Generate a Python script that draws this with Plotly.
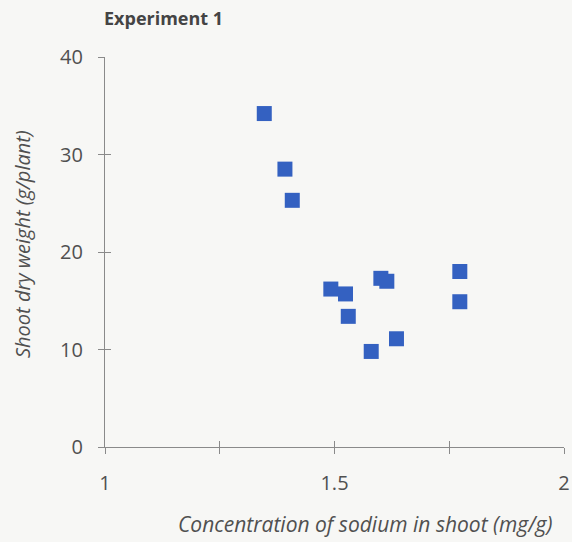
import plotly.graph_objects as go

sodium = [1.347, 1.392, 1.408, 1.492, 1.524, 1.530, 1.601, 1.614, 1.580, 1.635, 1.773, 1.773]
weight = [34.2, 28.5, 25.3, 16.2, 15.7, 13.4, 17.3, 17.0, 9.8, 11.1, 18.0, 14.9]
x_ticks = [1, 1.25, 1.5, 1.75, 2]
x_tick_labels = ["1", "", "1.5", "", "2"]
y_ticks = [0, 10, 20, 30, 40]

FONT = "Open Sans"
GRAY = "#505050"
AX = "#8a8a8a"
BG = "#f7f7f5"

fig = go.Figure()
fig.add_trace(go.Scatter(x=sodium, y=weight, mode="markers",
                         marker=dict(symbol="square", size=15, color="#3461c1", line=dict(width=0)),
                         showlegend=False))
# invisible trace to activate secondary axes (ticks drawn on the inner side)
fig.add_trace(go.Scatter(x=[1], y=[0], xaxis="x2", yaxis="y2", mode="markers",
                         marker=dict(opacity=0), showlegend=False, hoverinfo="skip"))

fig.update_layout(
    width=572, height=542,
    margin=dict(l=105, r=8, t=57, b=95),
    paper_bgcolor=BG, plot_bgcolor=BG,
    font=dict(family=FONT, color=GRAY, size=19),
    xaxis=dict(range=[1, 2], tickvals=x_ticks, ticktext=x_tick_labels, automargin=False,
               showgrid=False, zeroline=False, showline=True, linecolor=AX, linewidth=1.2,
               ticks="outside", ticklen=6, tickcolor=AX, tickwidth=1.2,
               tickfont=dict(size=20, color=GRAY), ticklabelstandoff=12),
    yaxis=dict(range=[0, 40], tickvals=y_ticks, automargin=False,
               showgrid=False, zeroline=False, showline=True, linecolor=AX, linewidth=1.2,
               ticks="outside", ticklen=6, tickcolor=AX, tickwidth=1.2,
               tickfont=dict(size=20, color=GRAY), ticklabelstandoff=11),
    xaxis2=dict(range=[1, 2], overlaying="x", tickvals=x_ticks, showticklabels=False, automargin=False,
                showgrid=False, zeroline=False, showline=False,
                ticks="inside", ticklen=6, tickcolor=AX, tickwidth=1.2),
    yaxis2=dict(range=[0, 40], overlaying="y", tickvals=y_ticks, showticklabels=False, automargin=False,
                showgrid=False, zeroline=False, showline=False,
                ticks="inside", ticklen=6, tickcolor=AX, tickwidth=1.2),
)

fig.add_annotation(text="<b>Experiment 1</b>", xref="paper", yref="paper", x=0, y=1,
                   xanchor="left", yanchor="middle", yshift=39, xshift=-3, showarrow=False,
                   font=dict(size=18, color="#444444", family=FONT))
fig.add_annotation(text="<i>Shoot dry weight (g/plant)</i>", xref="paper", yref="paper",
                   x=0, y=0.5, xanchor="center", yanchor="middle", xshift=-83, yshift=8,
                   textangle=-90, showarrow=False, font=dict(size=20, color=GRAY, family=FONT))
fig.add_annotation(text="<i>Concentration of sodium in shoot (mg/g)</i>", xref="paper", yref="paper",
                   x=1, y=0, xanchor="right", yanchor="middle", xshift=-9, yshift=-77, showarrow=False,
                   font=dict(size=21, color=GRAY, family=FONT))

fig.write_html("out.html", config={"displayModeBar": False},
               post_script="document.body.style.margin='0';document.body.style.background='" + BG + "';")
